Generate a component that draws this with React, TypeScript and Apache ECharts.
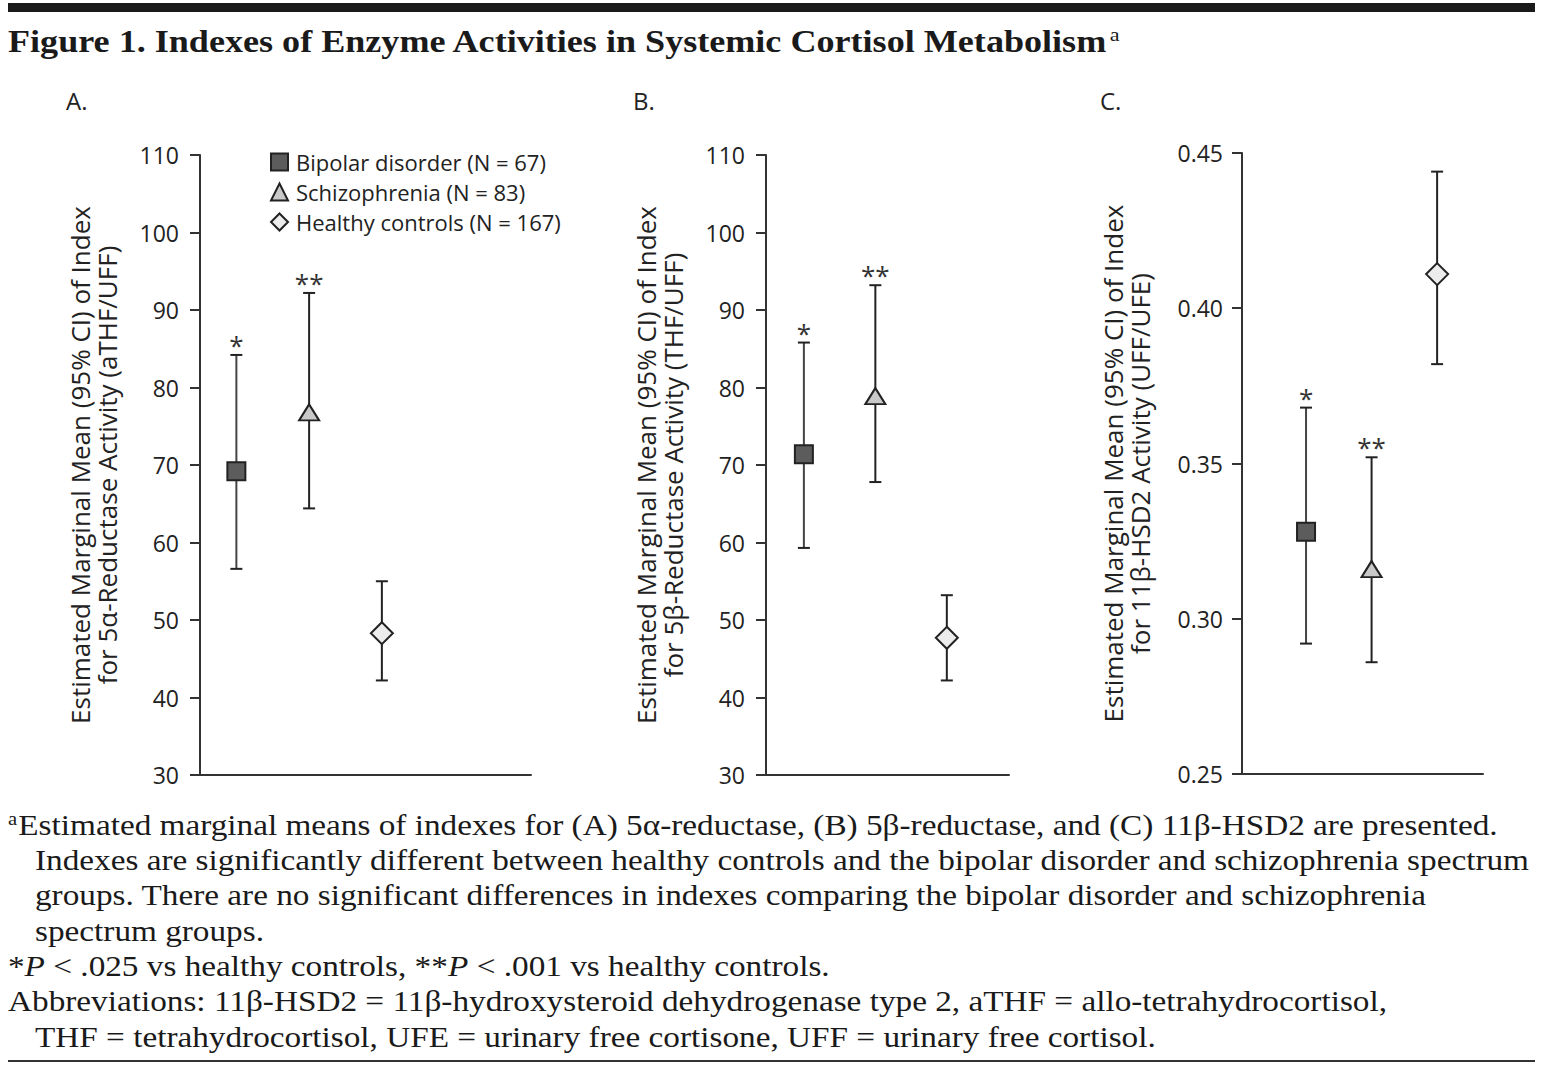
import React, { useEffect, useRef } from "react";
import * as echarts from "echarts";

const SANS = '"Open Sans", "Noto Sans", sans-serif';
const SERIF = '"Liberation Serif", "DejaVu Serif", serif';

const groups = ["Bipolar disorder (N = 67)", "Schizophrenia (N = 83)", "Healthy controls (N = 167)"];
const groupX = [1, 2, 3];
const sigMarks = ["*", "**", ""];

const meanA = [69.2, 76.8, 48.3];
const lowA = [56.6, 64.4, 42.2];
const highA = [84.2, 92.2, 55.0];

const meanB = [71.4, 78.9, 47.7];
const lowB = [59.3, 67.8, 42.2];
const highB = [85.8, 93.2, 53.2];

const meanC = [0.328, 0.316, 0.411];
const lowC = [0.292, 0.286, 0.382];
const highC = [0.368, 0.352, 0.444];

const sigC = ["*", "**", ""];

const yTitleA = "Estimated Marginal Mean (95% CI) of Index\nfor 5α-Reductase Activity (aTHF/UFF)";
const yTitleB = "Estimated Marginal Mean (95% CI) of Index\nfor 5β-Reductase Activity (THF/UFF)";
const yTitleC = "Estimated Marginal Mean (95% CI) of Index\nfor 11β-HSD2 Activity (UFF/UFE)";

const figTitle = "Figure 1. Indexes of Enzyme Activities in Systemic Cortisol Metabolism{sup|a}";
const footLines = [
  "{sup|a}Estimated marginal means of indexes for (A) 5α-reductase, (B) 5β-reductase, and (C) 11β-HSD2 are presented.",
  "Indexes are significantly different between healthy controls and the bipolar disorder and schizophrenia spectrum",
  "groups. There are no significant differences in indexes comparing the bipolar disorder and schizophrenia",
  "spectrum groups.",
  "*{i|P} < .025 vs healthy controls, **{i|P} < .001 vs healthy controls.",
  "Abbreviations: 11β-HSD2 = 11β-hydroxysteroid dehydrogenase type 2, aTHF = allo-tetrahydrocortisol,",
  "THF = tetrahydrocortisol, UFE = urinary free cortisone, UFF = urinary free cortisol.",
];
const footIndent = [false, true, true, true, false, false, true];

const markerStyles = [
  { symbol: "rect", size: [18, 18], fill: "#5c5c5c" },
  { symbol: "triangle", size: [20, 16], fill: "#c9c9c9" },
  { symbol: "diamond", size: [22, 22], fill: "#ececec" },
];
const barColors = ["#444", "#222", "#222"];

function makePanelSeries(gi: number, mean: number[], low: number[], high: number[], sig: string[]) {
  const series: any[] = [];
  series.push({
    type: "custom",
    xAxisIndex: gi,
    yAxisIndex: gi,
    z: 2,
    silent: true,
    encode: { x: 0, y: [1, 2] },
    data: groupX.map((x, i) => [x, low[i], high[i]]),
    renderItem: (params: any, api: any) => {
      const i = params.dataIndex;
      const x = api.value(0);
      const pLo = api.coord([x, api.value(1)]);
      const pHi = api.coord([x, api.value(2)]);
      const hw = 6;
      const stroke = barColors[i];
      return {
        type: "group",
        children: [
          { type: "line", shape: { x1: pLo[0], y1: pLo[1], x2: pHi[0], y2: pHi[1] }, style: { stroke, lineWidth: 2 } },
          { type: "line", shape: { x1: pHi[0] - hw, y1: pHi[1], x2: pHi[0] + hw, y2: pHi[1] }, style: { stroke: "#222", lineWidth: 2 } },
          { type: "line", shape: { x1: pLo[0] - hw, y1: pLo[1], x2: pLo[0] + hw, y2: pLo[1] }, style: { stroke: "#222", lineWidth: 2 } },
          {
            type: "text",
            x: pHi[0],
            y: pHi[1] + 3,
            style: { text: sig[i], align: "center", verticalAlign: "bottom", fontSize: 26, fontFamily: SANS, fill: "#333" },
          },
        ],
      };
    },
  });
  groups.forEach((g, i) => {
    series.push({
      type: "scatter",
      name: g,
      xAxisIndex: gi,
      yAxisIndex: gi,
      z: 5,
      symbol: markerStyles[i].symbol,
      symbolSize: markerStyles[i].size,
      itemStyle: { color: markerStyles[i].fill, borderColor: "#222", borderWidth: 2, opacity: 1 },
      data: [[groupX[i], mean[i]]],
    });
  });
  return series;
}

function yAxis(gi: number, min: number, max: number, interval: number, name: string, nameGap: number, dec: number, margin: number) {
  return {
    type: "value",
    gridIndex: gi,
    min,
    max,
    interval,
    name,
    nameLocation: "middle",
    nameRotate: 90,
    nameGap,
    nameTextStyle: { fontSize: 26, lineHeight: 27, fontFamily: SANS, color: "#222" },
    axisLine: { show: true, lineStyle: { color: "#333", width: 2 } },
    axisTick: { show: true, inside: false, length: 10, lineStyle: { color: "#333", width: 2 } },
    axisLabel: {
      fontSize: 23,
      fontFamily: SANS,
      color: "#222",
      margin,
      formatter: (v: number) => v.toFixed(dec),
    },
    splitLine: { show: false },
  };
}

function xAxis(gi: number, min: number, max: number) {
  return {
    type: "value",
    gridIndex: gi,
    min,
    max,
    axisLine: { show: true, onZero: false, lineStyle: { color: "#333", width: 2 } },
    axisTick: { show: false },
    axisLabel: { show: false },
    splitLine: { show: false },
  };
}

export default function App() {
  const ref = useRef<HTMLDivElement>(null);
  useEffect(() => {
    if (!ref.current) return;
    const chart = echarts.init(ref.current, null, { renderer: "svg" });
    const footGraphics = footLines.map((t, i) => ({
      type: "text",
      x: footIndent[i] ? 35 : 8,
      y: 825 + i * 35.3,
      scaleX: 1.147,
      style: {
        text: t,
        fontSize: 29,
        fontFamily: SERIF,
        fill: "#1a1a1a",
        verticalAlign: "middle",
        rich: {
          sup: { fontSize: 18, fontFamily: SERIF, fill: "#1a1a1a", verticalAlign: "top", padding: [0, 1, 12, 0] },
          i: { fontSize: 29, fontFamily: SERIF, fontStyle: "italic", fill: "#1a1a1a" },
        },
      },
    }));
    const option: any = {
      animation: false,
      backgroundColor: "#fff",
      grid: [
        { left: 200, top: 155, width: 331, height: 620 },
        { left: 766, top: 155, width: 243, height: 620 },
        { left: 1242, top: 153, width: 241, height: 621 },
      ],
      xAxis: [xAxis(0, 0.5, 5.05), xAxis(1, 0.47, 3.87), xAxis(2, 0.023, 3.7)],
      yAxis: [
        yAxis(0, 30, 110, 10, yTitleA, 80, 0, 21),
        yAxis(1, 30, 110, 10, yTitleB, 80, 0, 21),
        yAxis(2, 0.25, 0.45, 0.05, yTitleC, 89, 2, 19),
      ],
      legend: {
        data: groups,
        orient: "vertical",
        left: 270,
        top: 151,
        padding: 0,
        itemWidth: 17,
        itemHeight: 17,
        itemGap: 8,
        selectedMode: false,
        textStyle: { fontSize: 22, fontFamily: SANS, color: "#222", padding: [0, 0, 0, 3] },
      },
      series: [
        ...makePanelSeries(0, meanA, lowA, highA, sigMarks),
        ...makePanelSeries(1, meanB, lowB, highB, sigMarks),
        ...makePanelSeries(2, meanC, lowC, highC, sigC),
      ],
      graphic: [
        { type: "rect", shape: { x: 8, y: 3, width: 1527, height: 9 }, style: { fill: "#1a1a1a" } },
        { type: "line", shape: { x1: 8, y1: 1061, x2: 1535, y2: 1061 }, style: { stroke: "#333", lineWidth: 2 } },
        {
          type: "text",
          x: 8,
          y: 41,
          scaleX: 1.165,
          style: {
            text: figTitle,
            fontSize: 31,
            fontWeight: "bold",
            fontFamily: SERIF,
            fill: "#1a1a1a",
            verticalAlign: "middle",
            rich: { sup: { fontSize: 19, fontFamily: SERIF, fontWeight: "normal", fill: "#1a1a1a", verticalAlign: "top", padding: [0, 0, 12, 1] } },
          },
        },
        { type: "text", x: 66, y: 100, style: { text: "A.", fontSize: 24, fontFamily: SANS, fill: "#222", verticalAlign: "middle" } },
        { type: "text", x: 633, y: 100, style: { text: "B.", fontSize: 24, fontFamily: SANS, fill: "#222", verticalAlign: "middle" } },
        { type: "text", x: 1100, y: 100, style: { text: "C.", fontSize: 24, fontFamily: SANS, fill: "#222", verticalAlign: "middle" } },
        ...footGraphics,
      ],
    };
    chart.setOption(option);
    return () => chart.dispose();
  }, []);
  return (
    <div
      ref={ref}
      style={{ position: "absolute", left: 0, top: 0, width: 1545, height: 1067, background: "#fff" }}
    />
  );
}
